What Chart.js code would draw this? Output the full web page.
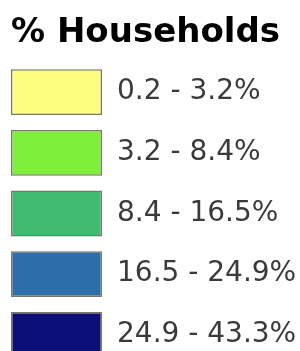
<!DOCTYPE html>
<html>
<head>
<meta charset="utf-8">
<script src="https://cdn.jsdelivr.net/npm/chart.js@4/dist/chart.umd.min.js"></script>
<style>
  html, body { margin: 0; padding: 0; background: #fff; overflow: hidden; }
  canvas { display: block; }
</style>
</head>
<body>
<canvas id="legendChart" width="300" height="397"></canvas>
<script>
// class breaks of the map legend (% households)
const classBreaks = [0.2, 3.2, 8.4, 16.5, 24.9, 43.3];
const classLabels = ['0.2 - 3.2%', '3.2 - 8.4%', '8.4 - 16.5%', '16.5 - 24.9%', '24.9 - 43.3%'];
const swatchColors = ['#fdfd80', '#7ef03c', '#40ba6e', '#2c6eaa', '#0e0e78'];
// every swatch is drawn full width
const swatchValues = [1, 1, 1, 1, 1];

const ctx = document.getElementById('legendChart');

new Chart(ctx, {
  type: 'bar',

  data: {
    labels: classLabels,
    datasets: [{
      data: swatchValues,
      backgroundColor: swatchColors,
      borderColor: '#7a7866',
      borderWidth: 1.5,
      borderSkipped: false,
      categoryPercentage: 1,
      barPercentage: 46 / 61
    }]
  },

  options: {
    indexAxis: 'y',
    responsive: false,
    animation: false,
    layout: {
      padding: { left: 11, right: 0, top: 0, bottom: 0 }
    },
    plugins: {
      legend: { display: false },
      tooltip: { enabled: false },
      title: {
        display: true,
        text: '% Households',
        align: 'start',
        color: '#000',
        font: { family: 'DejaVu Sans', size: 34, weight: 'bold' },
        padding: { top: 13, bottom: 8 }
      }
    },
    scales: {
      x: {
        display: false,
        min: 0,
        max: 1
      },
      y: {
        position: 'right',
        grid: { display: false, drawTicks: false },
        border: { display: false },
        ticks: {
          color: '#3a3a3a',
          padding: 15,
          font: { family: 'DejaVu Sans', size: 28 }
        },
        afterFit: (scale) => { scale.width = 198; }
      }
    }
  }
});
</script>
</body>
</html>
